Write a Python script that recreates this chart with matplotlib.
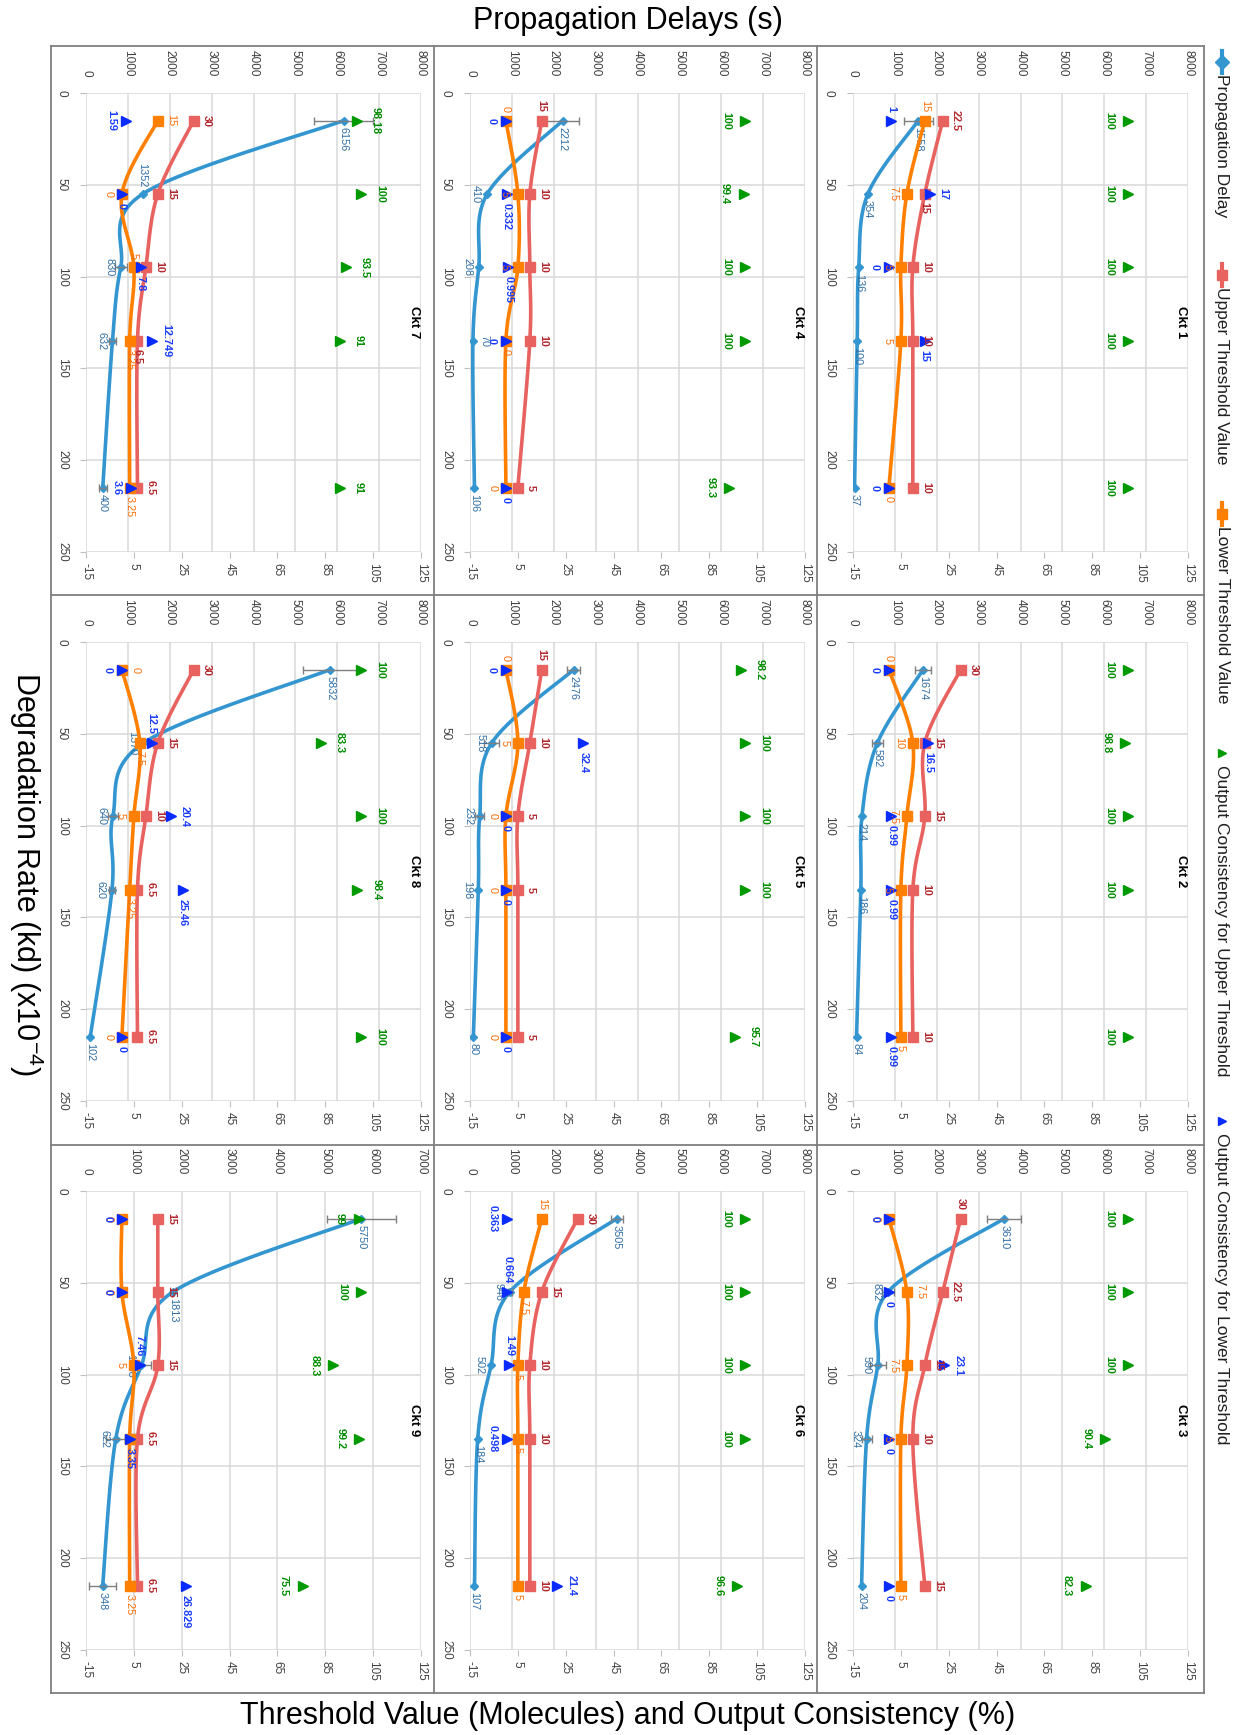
import numpy as np
import matplotlib.pyplot as plt

plt.rcParams['font.family'] = ['Liberation Sans', 'DejaVu Sans']
plt.rcParams['mathtext.default'] = 'regular'

# ---- data ----
circuits = ['Ckt 1', 'Ckt 2', 'Ckt 3', 'Ckt 4', 'Ckt 5', 'Ckt 6', 'Ckt 7', 'Ckt 8', 'Ckt 9']
degradation = [15, 55, 95, 135, 215]

prop_delay = [
    [1558, 354, 136, 100, 37],
    [1674, 582, 214, 186, 84],
    [3610, 832, 590, 324, 204],
    [2212, 410, 208, 70, 106],
    [2476, 518, 232, 198, 80],
    [3505, 946, 502, 184, 107],
    [6156, 1352, 830, 632, 400],
    [5832, 1370, 640, 620, 102],
    [5750, 1813, 1158, 622, 348],
]
prop_error = [
    [350, 0, 0, 0, 0],
    [190, 140, 0, 0, 0],
    [400, 140, 190, 120, 0],
    [400, 0, 0, 0, 0],
    [160, 180, 110, 0, 0],
    [140, 50, 0, 0, 0],
    [700, 0, 140, 80, 90],
    [640, 0, 120, 80, 0],
    [720, 0, 200, 200, 275],
]
upper_threshold = [
    [22.5, 15, 10, 10, 10],
    [30, 15, 15, 10, 10],
    [30, 22.5, 15, 10, 15],
    [15, 10, 10, 10, 5],
    [15, 10, 5, 5, 5],
    [30, 15, 10, 10, 10],
    [30, 15, 10, 6.5, 6.5],
    [30, 15, 10, 6.5, 6.5],
    [15, 15, 15, 6.5, 6.5],
]
lower_threshold = [
    [15, 7.5, 5, 5, 0],
    [0, 10, 7.5, 5, 5],
    [0, 7.5, 7.5, 5, 5],
    [0, 5, 5, 0, 0],
    [0, 5, 0, 0, 0],
    [15, 7.5, 5, 5, 5],
    [15, 0, 5, 3.25, 3.25],
    [0, 7.5, 5, 3.25, 0],
    [0, 0, 5, 3.25, 3.25],
]
upper_consistency = [
    [100, 100, 100, 100, 100],
    [100, 98.8, 100, 100, 100],
    [100, 100, 100, 90.4, 82.3],
    [100, 99.4, 100, 100, 93.3],
    [98.2, 100, 100, 100, 95.7],
    [100, 100, 100, 100, 96.6],
    [98.18, 100, 93.5, 91, 91],
    [100, 83.3, 100, 98.4, 100],
    [99, 100, 88.3, 99.2, 75.5],
]
lower_consistency = [
    [1, 17, 0, 15, 0],
    [0, 16.5, 0.99, 0.99, 0.99],
    [0, 0, 23.1, 0, 0],
    [0, 0.332, 0.995, 0, 0],
    [0, 32.4, 0, 0, 0],
    [0.363, 0.664, 1.49, 0.498, 21.4],
    [1.59, 0, 7.8, 12.749, 3.6],
    [0, 12.5, 20.4, 25.46, 0],
    [0, 0, 7.46, 3.35, 26.829],
]
prop_axis_max = [8000, 8000, 8000, 8000, 8000, 8000, 8000, 8000, 7000]

# which side of the point each data label sits on (rotated view):
# b = below, a = above, r = right, l = left
label_sides = {
    'Ckt 1': ['bbbbb', 'rbrrr', 'alllb', 'lllll', 'arlbl'],
    'Ckt 2': ['bbbbb', 'rrrrr', 'alllb', 'lllll', 'lbbbb'],
    'Ckt 3': ['blllb', 'arrrr', 'lrllb', 'lllll', 'lbrbb'],
    'Ckt 4': ['bllrb', 'arrrr', 'allbl', 'lllll', 'lbblb'],
    'Ckt 5': ['blllb', 'arrrr', 'allll', 'rrrrr', 'lbbbb'],
    'Ckt 6': ['bllbb', 'rrrrr', 'abbbb', 'lllll', 'laalr'],
    'Ckt 7': ['ballb', 'rrrbr', 'rlabb', 'rrrrr', 'lbbrl'],
    'Ckt 8': ['blllb', 'rrrrr', 'rblbl', 'rrrrr', 'larbb'],
    'Ckt 9': ['bbllb', 'rrrrr', 'lllbb', 'lllll', 'llabb'],
}

# colours
C_PROP, C_UP, C_LOW = '#3496D0', '#E8625F', '#FF8000'
C_GREEN, C_BLUE = '#009A00', '#0A2BFF'
LBL = {'prop': ('#2E6DA4', 'normal', 4.5), 'up': ('#B3282D', 'bold', 6),
       'low': ('#FF6A00', 'normal', 6), 'green': ('#008C00', 'bold', 10),
       'blue': ('#1A3CFF', 'bold', 6.5)}

W, H = 1233, 1735
PLOT_W, PLOT_H = 335, 459
col_x = [86, 470, 853]
row_y = [93, 642, 1191]


def smooth(vals, degs, vspan, n=24):
    """Excel-like smoothed line (Catmull-Rom in screen space)."""
    sv, sd = PLOT_W / vspan, PLOT_H / 250.0
    P = np.column_stack([np.asarray(vals, float) * sv, np.asarray(degs, float) * sd])
    t = np.linspace(0, 1, n)[:, None]
    out = []
    for i in range(len(P) - 1):
        p0, p1 = P[max(i - 1, 0)], P[i]
        p2, p3 = P[i + 1], P[min(i + 2, len(P) - 1)]
        c1 = p1 + (p2 - p0) / 6.0
        c2 = p2 - (p3 - p1) / 6.0
        seg = (1 - t) ** 3 * p1 + 3 * (1 - t) ** 2 * t * c1 + 3 * (1 - t) * t ** 2 * c2 + t ** 3 * p2
        out.append(seg if i == 0 else seg[1:])
    Q = np.vstack(out)
    return Q[:, 0] / sv, Q[:, 1] / sd


def label(ax, x, y, value, side, kind):
    color, weight, d = LBL[kind]
    off = {'b': ((0, -d), 'center', 'top'), 'a': ((0, d), 'center', 'bottom'),
           'r': ((d, 0), 'left', 'center'), 'l': ((-d, 0), 'right', 'center')}[side]
    ax.annotate(f'{value:g}', (x, y), xytext=off[0], textcoords='offset points',
                rotation=-90, ha=off[1], va=off[2], fontsize=7.8,
                color=color, fontweight=weight, zorder=6)


fig = plt.figure(figsize=(W / 100, H / 100), dpi=100)

for k, name in enumerate(circuits):
    col = 2 - k // 3
    row = k % 3
    x0, y0 = col_x[col], row_y[row]
    ax = fig.add_axes([x0 / W, 1 - (y0 + PLOT_H) / H, PLOT_W / W, PLOT_H / H])
    ax2 = ax.twiny()
    pmax = prop_axis_max[k]

    # propagation delay axis (top)
    ax.set_xlim(0, pmax)
    ax.set_ylim(250, 0)
    pticks = list(range(0, pmax + 1, 1000))
    ax.set_xticks(pticks, [str(v) for v in pticks], rotation=-90)
    ax.set_yticks(range(0, 251, 50), [str(v) for v in range(0, 251, 50)],
                  rotation=-90, va='center')
    ax.xaxis.tick_top()
    ax.tick_params(axis='x', length=0, pad=12, labelsize=8.5, labelcolor='#404040')
    ax.tick_params(axis='y', length=4, color='#BFBFBF', pad=9, labelsize=8.5,
                   labelcolor='#404040')
    ax.grid(True, color='#D9D9D9', lw=1.1)
    ax.set_axisbelow(True)

    # threshold / consistency axis (bottom)
    ax2.set_xlim(-15, 125)
    tticks = [-15, 5, 25, 45, 65, 85, 105, 125]
    ax2.set_xticks(tticks, [str(v) for v in tticks], rotation=-90)
    ax2.xaxis.tick_bottom()
    ax2.tick_params(axis='x', length=4, color='#BFBFBF', pad=4, labelsize=8.5,
                    labelcolor='#404040')
    for a in (ax, ax2):
        for s in a.spines.values():
            s.set_visible(False)

    sides = label_sides[name]

    # propagation delay
    xs, ys = smooth(prop_delay[k], degradation, pmax)
    ax.plot(xs, ys, color=C_PROP, lw=2.6, solid_capstyle='round', zorder=3)
    ax.plot(prop_delay[k], degradation, 'D', color=C_PROP, ms=4.5, zorder=4)
    err = np.array(prop_error[k], float)
    m = err > 0
    if m.any():
        ax.errorbar(np.array(prop_delay[k])[m], np.array(degradation)[m], xerr=err[m],
                    fmt='none', ecolor='#7F7F7F', elinewidth=1.0, capsize=3, zorder=5)
    for x, y, s in zip(prop_delay[k], degradation, sides[0]):
        label(ax, x, y, x, s, 'prop')

    # thresholds
    for vals, c, kind, sd in ((upper_threshold[k], C_UP, 'up', sides[1]),
                              (lower_threshold[k], C_LOW, 'low', sides[2])):
        xs, ys = smooth(vals, degradation, 140)
        ax2.plot(xs, ys, color=c, lw=2.6, zorder=3)
        ax2.plot(vals, degradation, 's', color=c, ms=6.5, zorder=4)
        for x, y, s in zip(vals, degradation, sd):
            label(ax2, x, y, x, s, kind)

    # output consistency markers
    for vals, c, kind, sd in ((upper_consistency[k], C_GREEN, 'green', sides[3]),
                              (lower_consistency[k], C_BLUE, 'blue', sides[4])):
        ax2.plot(vals, degradation, '>', color=c, ms=7, ls='none', zorder=5)
        for x, y, s in zip(vals, degradation, sd):
            label(ax2, x, y, x, s, kind)

    ax.text(0.98, 0.5, name, transform=ax.transAxes, rotation=-90, ha='center',
            va='center', fontsize=9.5, fontweight='bold', color='#000000', zorder=7)

# ---- overlay: panel borders, titles, legend (pixel coordinates) ----
ov = fig.add_axes([0, 0, 1, 1], zorder=10)
ov.set_xlim(0, W)
ov.set_ylim(H, 0)
ov.axis('off')
ov.patch.set_alpha(0)

bx = [51, 434, 817, 1204]
by = [46, 595, 1145, 1693]
for x in bx:
    ov.plot([x, x], [by[0], by[-1]], color='#7F7F7F', lw=1.3)
for y in by:
    ov.plot([bx[0], bx[-1]], [y, y], color='#7F7F7F', lw=1.3)

ov.text(628, 21, 'Propagation Delays (s)', ha='center', va='center', fontsize=22)
ov.text(628, 1716, 'Threshold Value (Molecules) and Output Consistency (%)',
        ha='center', va='center', fontsize=22)
ov.text(26, 874, 'Degradation Rate (kd) (x10$^{-4}$)', rotation=-90,
        ha='center', va='center', fontsize=22)

legend_items = [
    ('Propagation Delay', C_PROP, 'D', True, 62),
    ('Upper Threshold Value', C_UP, 's', True, 275),
    ('Lower Threshold Value', C_LOW, 's', True, 514),
    ('Output Consistency for Upper Threshold', C_GREEN, '>', False, 753),
    ('Output Consistency for Lower Threshold', C_BLUE, '>', False, 1121),
]
lx = 1222
for text, c, mk, has_line, ly in legend_items:
    if has_line:
        ov.plot([lx, lx], [ly - 11, ly + 11], color=c, lw=3)
    ov.plot([lx], [ly], mk, color=c, ms=7 if mk != '>' else 6)
    ov.text(lx, ly + 12, text, rotation=-90, ha='center', va='top',
            fontsize=12.5, color='#202020')

fig.savefig('out.png', dpi=100)
